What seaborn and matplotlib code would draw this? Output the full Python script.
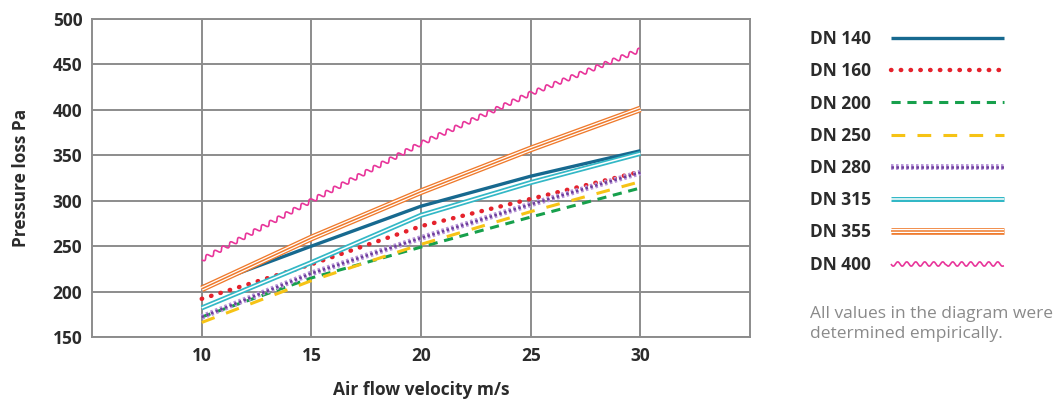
import numpy as np
import pandas as pd
import matplotlib
matplotlib.use("Agg")
import matplotlib.pyplot as plt
import matplotlib.patheffects as pe
import seaborn as sns

# values
velocity = [10, 15, 20, 25, 30]
dn140 = [205, 250, 294, 327, 355]
dn160 = [192, 230, 272, 302, 332]
dn200 = [172, 215, 249, 282, 314]
dn250 = [166, 212, 252, 288, 321]
dn280 = [172, 220, 259, 296, 331]
dn315 = [182, 232, 284, 320, 352]
dn355 = [203, 259, 310, 357, 401]
dn400 = [235, 300, 363, 418, 466]

series = {
    'DN 140': dn140,
    'DN 160': dn160,
    'DN 200': dn200,
    'DN 250': dn250,
    'DN 280': dn280,
    'DN 315': dn315,
    'DN 355': dn355,
    'DN 400': dn400,
}

df = pd.DataFrame(
    [(name, v, p) for name, vals in series.items() for v, p in zip(velocity, vals)],
    columns=['series', 'velocity', 'pressure'],
)

sns.set_style('white')
plt.rcParams['font.family'] = ['Open Sans', 'DejaVu Sans']

fig = plt.figure(figsize=(10.63, 4.01), dpi=100)
ax = fig.add_axes([0.0866, 0.1596, 0.619, 0.793])

grid_col = '#8c8c8c'
text_col = '#2b2b2b'
ax.set_xlim(5, 35)
ax.set_ylim(150, 500)
ax.set_xticks([10, 15, 20, 25, 30])
ax.set_yticks(np.arange(150, 501, 50))
ax.grid(True, color=grid_col, lw=1.4)
ax.set_axisbelow(True)
for s in ax.spines.values():
    s.set_color(grid_col)
    s.set_linewidth(1.4)
ax.tick_params(length=0, labelsize=12.5, colors=text_col, pad=7)
for lab in ax.get_xticklabels() + ax.get_yticklabels():
    lab.set_fontweight('bold')

butt = dict(capstyle='butt')
styles = {
    'DN 140': dict(color='#17698f', lw=2.4, solid_capstyle='butt'),
    'DN 160': dict(color='#e5222c', lw=3.2, linestyle=(0, (0.1, 2.1)), dash_capstyle='round'),
    'DN 200': dict(color='#17a04c', lw=2.2, linestyle=(0, (3, 2.2))),
    'DN 250': dict(color='#f6c315', lw=2.2, linestyle=(0, (4.5, 4))),
    'DN 280': dict(color='#6e3f9c', lw=1.8, linestyle=(0, (1, 1)),
                   path_effects=[pe.Stroke(linewidth=4.2, foreground='#b795d8', **butt), pe.Normal()]),
    'DN 315': dict(color='white', lw=1.1, solid_capstyle='butt',
                   path_effects=[pe.Stroke(linewidth=3.6, foreground='#33b8c6', **butt), pe.Normal()]),
    'DN 355': dict(color='#ef7a2c', lw=1.1, solid_capstyle='butt',
                   path_effects=[pe.Stroke(linewidth=4.8, foreground='#ef7a2c', **butt),
                                 pe.Stroke(linewidth=2.9, foreground='white', **butt), pe.Normal()]),
    'DN 400': dict(color='#e8359a', lw=1.2, solid_capstyle='butt'),
}

handles = []
for name in series:
    before = len(ax.lines)
    sns.lineplot(data=df[df['series'] == name], x='velocity', y='pressure',
                 ax=ax, errorbar=None, legend=False, label=name, **styles[name])
    line = ax.lines[before]
    if name == 'DN 400':
        line.set_sketch_params(2.2, 9, 1)
    handles.append(line)

ax.set_xlabel('Air flow velocity m/s', fontsize=12.5, fontweight='bold', color=text_col, labelpad=12)
ax.set_ylabel('Pressure loss Pa', fontsize=12.5, fontweight='bold', color=text_col, labelpad=16)

leg = fig.legend(handles, list(series.keys()), loc='upper left', bbox_to_anchor=(0.7473, 0.964),
                 frameon=False, markerfirst=False, handlelength=6.5, handletextpad=1.15,
                 labelspacing=0.82, prop=dict(weight='bold', size=12.5))
for t in leg.get_texts():
    t.set_color(text_col)

fig.text(0.762, 0.236, 'All values in the diagram were\ndetermined empirically.',
         fontsize=12.5, color='#8a8a8a', va='top', linespacing=1.3)

fig.savefig('out.png', dpi=100)
